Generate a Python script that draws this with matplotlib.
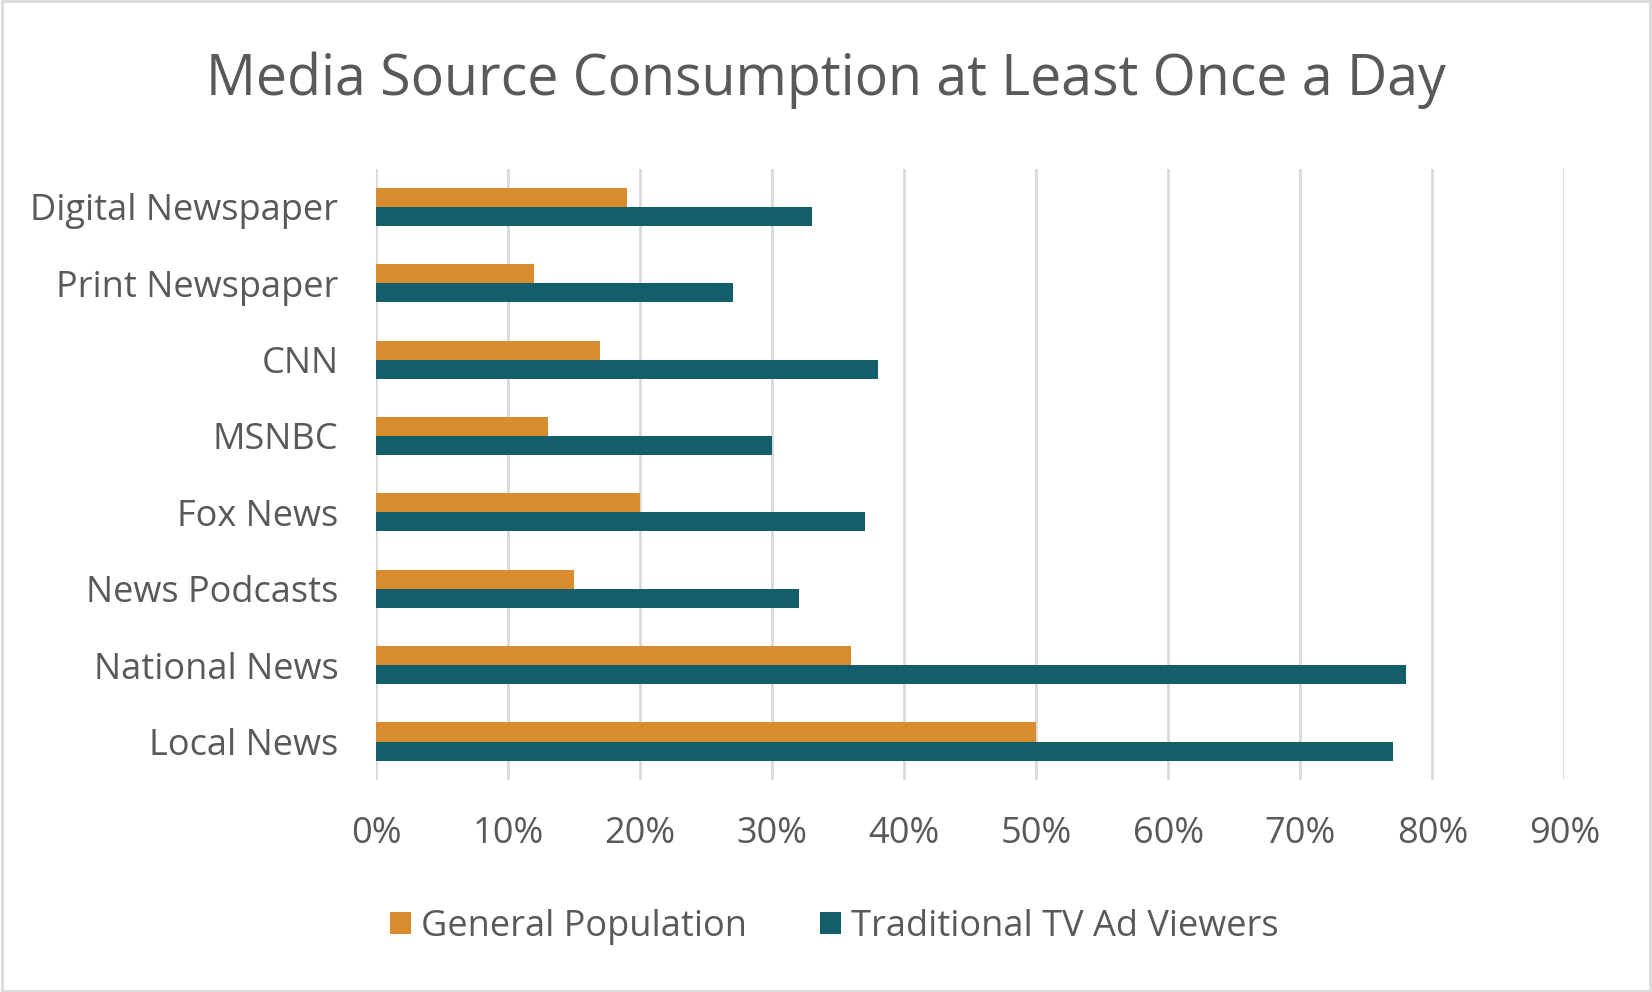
import matplotlib
matplotlib.use("Agg")
import matplotlib.pyplot as plt
import numpy as np

plt.rcParams['font.family'] = ['Open Sans', 'DejaVu Sans']

categories = ["Local News", "National News", "News Podcasts", "Fox News",
              "MSNBC", "CNN", "Print Newspaper", "Digital Newspaper"]
general_pop = [50, 36, 15, 20, 13, 17, 12, 19]
tv_viewers = [77, 78, 32, 37, 30, 38, 27, 33]

orange = "#D88C2D"
teal = "#135E6B"
text_col = "#595959"

fig = plt.figure(figsize=(16.52, 9.92), dpi=100)
ax = fig.add_axes([0.2276, 0.214, 0.7194, 0.616])

y = np.arange(len(categories))
h = 0.25
ax.barh(y + h / 2, general_pop, height=h, color=orange, label="General Population", zorder=3)
ax.barh(y - h / 2, tv_viewers, height=h, color=teal, label="Traditional TV Ad Viewers", zorder=3)

ax.set_xlim(0, 90)
ax.set_ylim(-0.5, 7.5)
ax.set_xticks(np.arange(0, 91, 10))
ax.set_xticklabels([f"{v}%" for v in range(0, 91, 10)])
ax.set_yticks(y)
ax.set_yticklabels(categories)
ax.tick_params(axis='x', length=0, pad=26, labelsize=26, labelcolor=text_col)
ax.tick_params(axis='y', length=0, pad=27, labelsize=26, labelcolor=text_col)
ax.grid(axis='x', color="#D9D9D9", linewidth=2, zorder=0)
for s in ax.spines.values():
    s.set_visible(False)

fig.suptitle("Media Source Consumption at Least Once a Day", y=0.919, va='center',
             fontsize=40, color=text_col)

fig.legend(loc='center', bbox_to_anchor=(0.505, 0.066), ncol=2, frameon=False,
           fontsize=26, labelcolor=text_col, handlelength=0.58, handleheight=0.58,
           handletextpad=0.3, columnspacing=2.0)

fig.patches.append(plt.Rectangle((0.001, 0.001), 0.998, 0.998, transform=fig.transFigure,
                                 fill=False, edgecolor="#D9D9D9", linewidth=2))

fig.savefig("out.png", dpi=100, facecolor="white")
